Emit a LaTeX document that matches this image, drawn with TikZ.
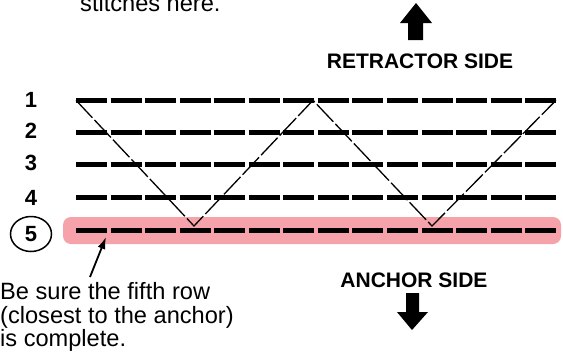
\documentclass[tikz,border=0pt]{standalone}
\usepackage{fontspec}
\setmainfont{Liberation Sans}
\usetikzlibrary{arrows.meta,shapes.geometric}

\definecolor{bandpink}{RGB}{246,162,170}

\newcommand*{\xleft}{76}
\newcommand*{\xright}{556}

\begin{document}
\begin{tikzpicture}
[
	x=1pt, y=-1pt,
	rowline/.style={line width=5pt, dash pattern=on 31pt off 3.55pt},
	zigline/.style={line width=1.3pt, dash pattern=on 24pt off 3pt},
	rownum/.style={font=\fontsize{22}{22}\selectfont\bfseries, inner sep=0pt},
	rowring/.style={ellipse, draw, line width=1.5pt, minimum width=41pt, minimum height=35pt, inner sep=0pt},
	sidelabel/.style={font=\fontsize{21}{21}\selectfont\bfseries, inner sep=0pt},
	notetext/.style={font=\fontsize{23.6}{23.5}\selectfont, align=left, inner sep=0pt},
	pointer/.style={-{Latex[length=12pt,width=8pt]}, line width=1.8pt}
]

	\useasboundingbox (0,0) rectangle (563,354);
	\clip (0,0) rectangle (563,354);

	% cut text at top
	\node[notetext, anchor=base west] (cut) at (80,11) {stitches here.};

	% highlight of fifth row
	\fill[bandpink, rounded corners=8pt] (63,217) rectangle (561,244);

	% rows
	\foreach \r/\y in {1/100.3,2/132.3,3/164.3,4/197.3,5/230.5} {
		\coordinate (row\r w) at (\xleft,\y);
		\coordinate (row\r e) at (\xright,\y);
		\draw[rowline] (row\r w) -- (row\r e);
	}

	% row numbers
	\foreach \r/\y in {1/100,2/130.5,3/163,4/197.5} {
		\node[rownum] (num\r) at (31,\y) {\r};
	}
	\node[rownum, rowring] (num5) at (31,234) {5};

	% zigzag
	\coordinate (low1) at (194,226);
	\coordinate (high) at (313,100.3);
	\coordinate (low2) at (432,226);
	\draw[zigline] (row1w) -- (low1) -- (high) -- (low2) -- (row1e);

	% sides
	\node[sidelabel] (retractor) at (420,61) {RETRACTOR SIDE};
	\fill (416,3) -- (432,23) -- (423,23) -- (423,40) -- (408,40) -- (408,23) -- (400,23) -- cycle;
	\node[sidelabel] (anchor) at (414,280) {ANCHOR SIDE};
	\fill (412,330) -- (428,312) -- (419,312) -- (419,293) -- (406,293) -- (406,312) -- (397,312) -- cycle;

	% note
	\node[notetext, anchor=north west] (note) at (0,282.5) {Be sure the fifth row\\(closest to the anchor)\\is complete.};
	\coordinate (tail) at (90,277);
	\coordinate (tip) at (106,237);
	\draw[pointer] (tail) -- (tip);

\end{tikzpicture}
\end{document}
